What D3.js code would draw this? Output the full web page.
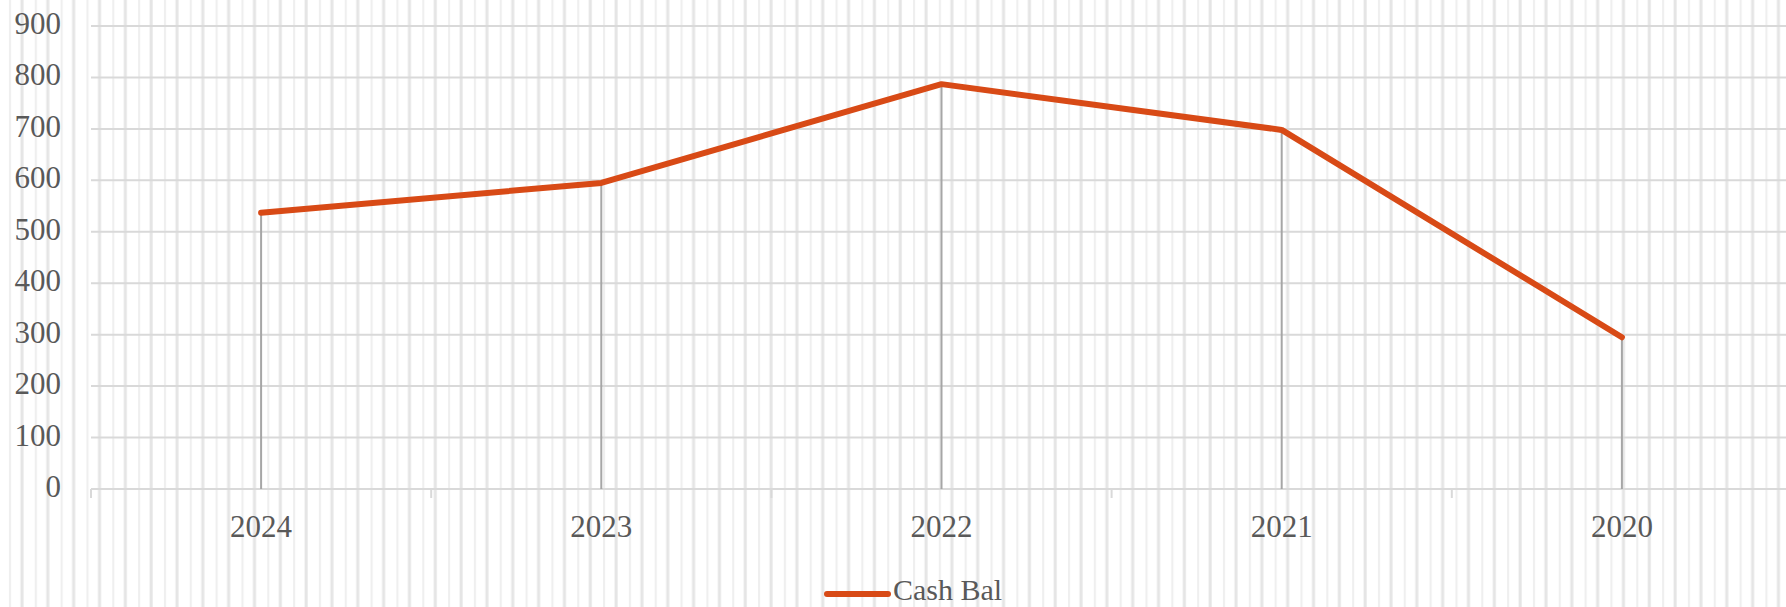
<!DOCTYPE html>
<html>
<head>
<meta charset="utf-8">
<script src="https://cdn.jsdelivr.net/npm/d3@7"></script>
<style>
	body { margin: 0; background: #fff; }
	svg { display: block; }
</style>
</head>
<body>
<div id="chart"></div>
<script>
var years = ['2024', '2023', '2022', '2021', '2020'];
var cashBal = [537, 595, 787, 698, 295];
var yTicks = [0, 100, 200, 300, 400, 500, 600, 700, 800, 900];
var seriesName = 'Cash Bal';

var W = 1786, H = 607;
var margin = {top: 26, left: 91, bottom: 118};
var plotRight = 1792;
var height = H - margin.top - margin.bottom;
var font = '"Liberation Serif", serif';

var svg = d3.select('#chart').append('svg')
	.attr('width', W)
	.attr('height', H);

// vertical stripe fill behind everything
var pat = svg.append('defs').append('pattern')
	.attr('id', 'stripes')
	.attr('patternUnits', 'userSpaceOnUse')
	.attr('width', 25.83)
	.attr('height', 10);
pat.append('rect').attr('width', 25.83).attr('height', 10).attr('fill', '#fff');
pat.append('rect').attr('x', 9).attr('width', 2).attr('height', 10).attr('fill', '#efefef');
pat.append('rect').attr('x', 20.5).attr('width', 3).attr('height', 10).attr('fill', '#e5e5e5');

svg.append('rect')
	.attr('width', W)
	.attr('height', H)
	.attr('fill', 'url(#stripes)');

var xScale = d3.scaleBand()
	.domain(years)
	.range([margin.left, plotRight]);

var yScale = d3.scaleLinear()
	.domain([0, 900])
	.range([margin.top + height, margin.top]);

// horizontal gridlines
svg.append('g').selectAll('line').data(yTicks)
	.enter().append('line')
		.attr('x1', margin.left)
		.attr('x2', plotRight)
		.attr('y1', function(d) { return yScale(d); })
		.attr('y2', function(d) { return yScale(d); })
		.style('stroke', '#d9d9d9')
		.style('stroke-width', 2);

// y labels
svg.append('g').selectAll('text').data(yTicks)
	.enter().append('text')
		.attr('x', 61)
		.attr('y', function(d) { return yScale(d) + 8; })
		.attr('text-anchor', 'end')
		.style('font-family', font)
		.style('font-size', '31px')
		.style('fill', '#595959')
		.text(function(d) { return d; });

// x axis line + ticks between categories
var xAxis = d3.axisBottom(xScale)
	.tickSize(0)
	.tickFormat('');
var xGuide = svg.append('g')
	.attr('transform', 'translate(0,' + yScale(0) + ')')
	.call(xAxis);
xGuide.select('.domain').remove();
xGuide.append('line')
	.attr('x1', margin.left)
	.attr('x2', plotRight)
	.style('stroke', '#d9d9d9')
	.style('stroke-width', 2);

var bounds = years.map(function(d) { return xScale(d); }).concat([plotRight]);
xGuide.selectAll('.sep').data(bounds)
	.enter().append('line')
		.attr('class', 'sep')
		.attr('x1', function(d) { return d; })
		.attr('x2', function(d) { return d; })
		.attr('y1', 0)
		.attr('y2', 9)
		.style('stroke', '#d9d9d9')
		.style('stroke-width', 2);

function cx(d) { return xScale(d) + xScale.bandwidth() / 2; }

// x labels
svg.append('g').selectAll('text').data(years)
	.enter().append('text')
		.attr('x', function(d) { return cx(d); })
		.attr('y', 537)
		.attr('text-anchor', 'middle')
		.style('font-family', font)
		.style('font-size', '31px')
		.style('fill', '#595959')
		.text(function(d) { return d; });

// drop lines
svg.append('g').selectAll('line').data(cashBal)
	.enter().append('line')
		.attr('x1', function(d, i) { return cx(years[i]); })
		.attr('x2', function(d, i) { return cx(years[i]); })
		.attr('y1', function(d) { return yScale(d); })
		.attr('y2', yScale(0))
		.style('stroke', '#a6a6a6')
		.style('stroke-width', 2);

// the series
var line = d3.line()
	.x(function(d, i) { return cx(years[i]); })
	.y(function(d) { return yScale(d); });

svg.append('path')
	.datum(cashBal)
	.attr('d', line)
	.style('fill', 'none')
	.style('stroke', '#d84a16')
	.style('stroke-width', 6)
	.style('stroke-linecap', 'round')
	.style('stroke-linejoin', 'round');

// legend
var legend = svg.append('g');
legend.append('line')
	.attr('x1', 827)
	.attr('x2', 888)
	.attr('y1', 594)
	.attr('y2', 594)
	.style('stroke', '#d84a16')
	.style('stroke-width', 6)
	.style('stroke-linecap', 'round');
legend.append('text')
	.attr('x', 893)
	.attr('y', 600)
	.style('font-family', font)
	.style('font-size', '30px')
	.style('fill', '#595959')
	.text(seriesName);
</script>
</body>
</html>
